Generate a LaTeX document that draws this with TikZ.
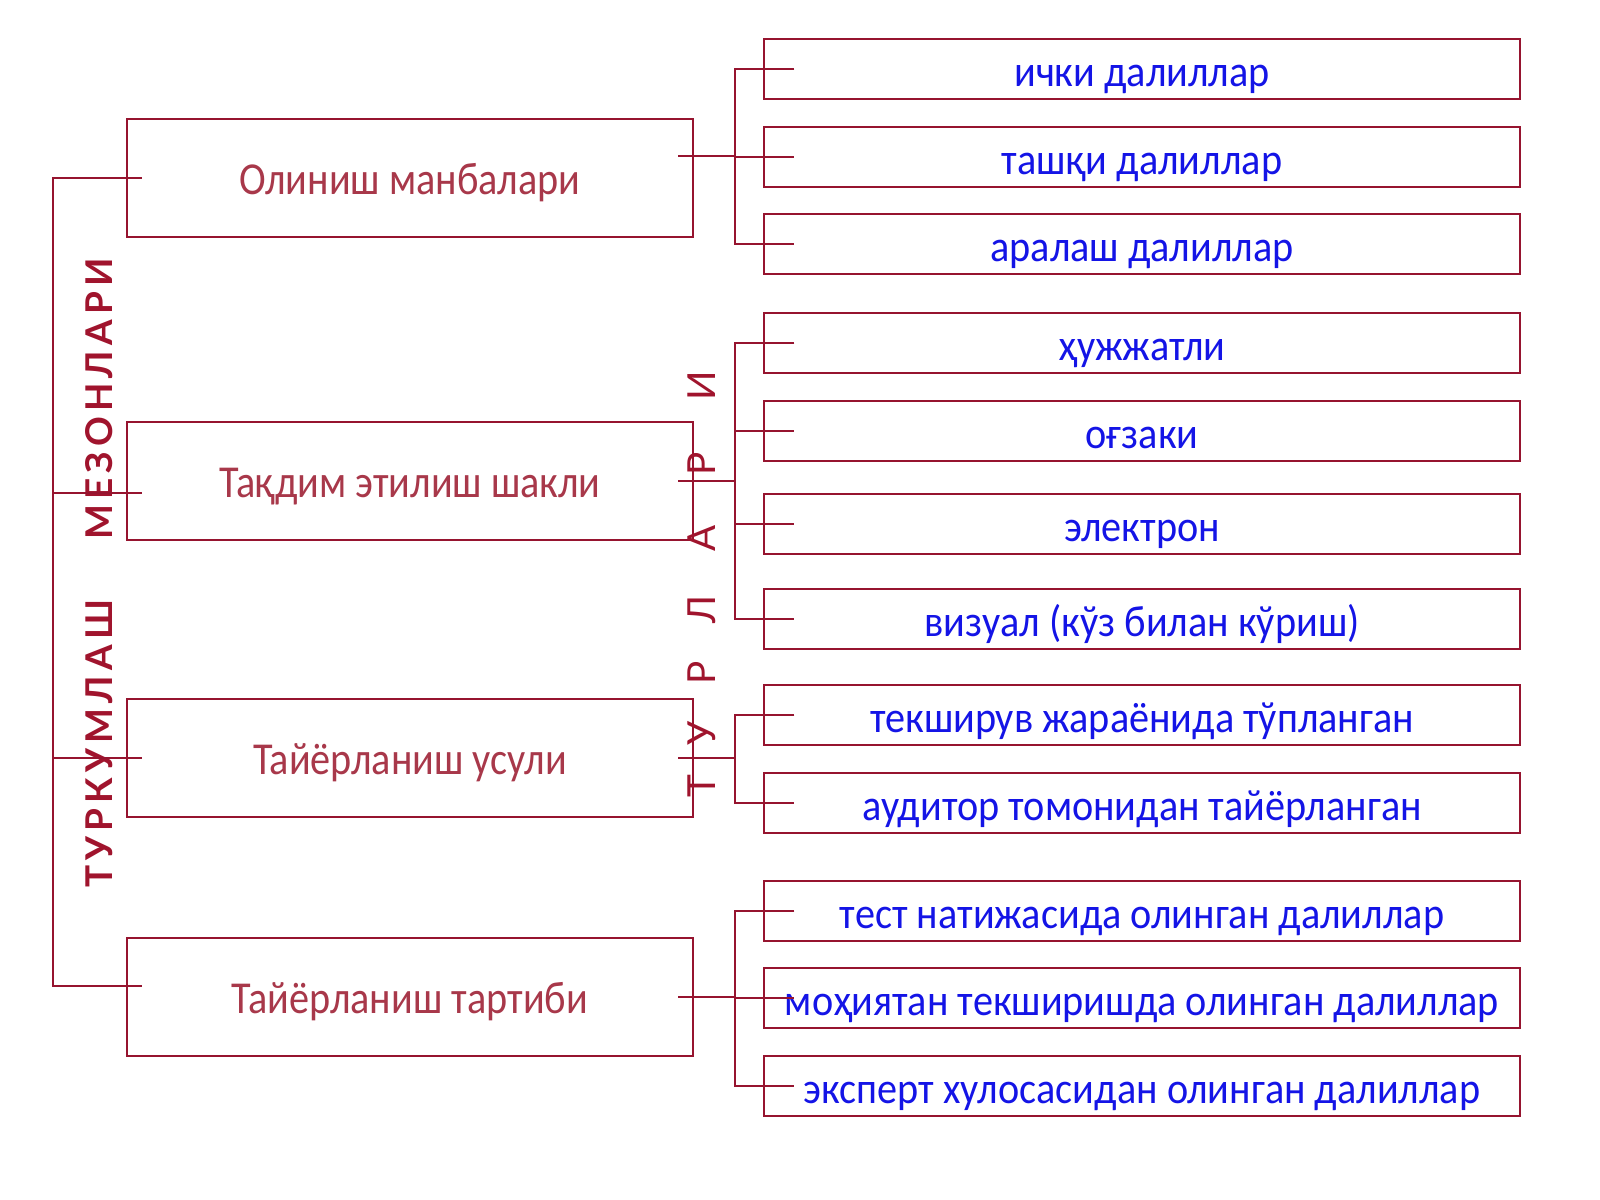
\documentclass[tikz,border=0pt]{standalone}
\usepackage{fontspec}
\usepackage{xcolor}
\usepackage{tikz}
\setmainfont{Carlito}
\newfontfamily\srcfont[FakeStretch=0.88]{Carlito}
\newfontfamily\kindfont[FakeStretch=0.915]{Carlito}
\newfontfamily\titlefont{Lato}

\definecolor{boxred}{HTML}{96142F}
\definecolor{srctext}{HTML}{A8384A}
\definecolor{kindblue}{HTML}{1414E6}
\definecolor{titlered}{HTML}{A0142D}

\tikzset{
  srcbox/.style={draw=boxred,line width=0.6pt,minimum width=5.66cm,minimum height=1.18cm,inner sep=0pt,text height=11.2pt,text depth=2pt,text=srctext,font=\srcfont\fontsize{13}{15}\selectfont},
  kindbox/.style={draw=boxred,line width=0.6pt,minimum width=7.55cm,minimum height=0.60cm,inner sep=0pt,text height=11.8pt,text depth=2pt,text=kindblue,font=\kindfont\fontsize{12.5}{14}\selectfont},
  link/.style={draw=boxred,line width=0.6pt}
}

\begin{document}
\begin{tikzpicture}[x=0.01cm,y=-0.01cm]
            \useasboundingbox (0,0) rectangle (1600,1200);

            %%% COORDINATES %%%
            \coordinate (spine) at (53,0);
            \coordinate (trunk) at (735,0);

            %%% LEFT BOXES %%%
            \node[srcbox] (src1) at (410,178) {Олиниш манбалари};
            \node[srcbox] (src2) at (410,481) {Тақдим этилиш шакли};
            \node[srcbox] (src3) at (410,758) {Тайёрланиш усули};
            \node[srcbox] (src4) at (410,997) {Тайёрланиш тартиби};

            %%% RIGHT BOXES %%%
            \node[kindbox] (k1) at (1142,69) {ички далиллар};
            \node[kindbox] (k2) at (1142,157) {ташқи далиллар};
            \node[kindbox] (k3) at (1142,244) {аралаш далиллар};
            \node[kindbox] (k4) at (1142,343) {ҳужжатли};
            \node[kindbox] (k5) at (1142,431) {оғзаки};
            \node[kindbox] (k6) at (1142,524) {электрон};
            \node[kindbox] (k7) at (1142,619) {визуал (кўз билан кўриш)};
            \node[kindbox] (k8) at (1142,715) {текширув жараёнида тўпланган};
            \node[kindbox] (k9) at (1142,803) {аудитор томонидан тайёрланган};
            \node[kindbox] (k10) at (1142,911) {тест натижасида олинган далиллар};
            \node[kindbox] (k11) at (1142,998) {моҳиятан текширишда олинган далиллар};
            \node[kindbox] (k12) at (1142,1086) {эксперт хулосасидан олинган далиллар};

            %%% TITLES %%%
            \node[rotate=90,text=titlered,font=\titlefont\bfseries\fontsize{10.5}{12}\selectfont\addfontfeature{LetterSpace=14}] (crit) at (99,573) {ТУРКУМЛАШ\hspace{0.6cm}МЕЗОНЛАРИ};
            \foreach \ch/\yy [count=\i] in {Т/786,У/733,Р/673,Л/609,А/538,Р/464,И/386}
                \node[rotate=90,text=titlered,font=\titlefont\fontsize{11}{13}\selectfont] (kindch\i) at (702,\yy) {\ch};

            %%% LEFT SPINE %%%
            \path ([yshift=-0.12cm]src2.west) coordinate (s2);
            \path ([yshift=0.11cm]src4.west) coordinate (s4);
            \draw[link] ([xshift=0.16cm]src1.west) -| (spine |- s4) -- ([xshift=0.16cm]s4);
            \draw[link] (spine |- s2) -- ([xshift=0.16cm]s2);
            \draw[link] (spine |- src3.west) -- ([xshift=0.16cm]src3.west);

            %%% RIGHT TRUNKS %%%
            \path ([yshift=0.22cm]src1.east) coordinate (e1);
            \draw[link] ([xshift=-0.16cm]e1) -- (e1 -| trunk);
            \draw[link] ([xshift=0.31cm]k1.west) -| (trunk |- k3.west) -- ([xshift=0.31cm]k3.west);
            \draw[link] (trunk |- k2.west) -- ([xshift=0.31cm]k2.west);

            \draw[link] ([xshift=-0.16cm]src2.east) -- (src2.east -| trunk);
            \draw[link] ([xshift=0.31cm]k4.west) -| (trunk |- k7.west) -- ([xshift=0.31cm]k7.west);
            \draw[link] (trunk |- k5.west) -- ([xshift=0.31cm]k5.west);
            \draw[link] (trunk |- k6.west) -- ([xshift=0.31cm]k6.west);

            \draw[link] ([xshift=-0.16cm]src3.east) -- (src3.east -| trunk);
            \draw[link] ([xshift=0.31cm]k8.west) -| (trunk |- k9.west) -- ([xshift=0.31cm]k9.west);

            \draw[link] ([xshift=-0.16cm]src4.east) -- (src4.east -| trunk);
            \draw[link] ([xshift=0.31cm]k10.west) -| (trunk |- k12.west) -- ([xshift=0.31cm]k12.west);
            \draw[link] (trunk |- k11.west) -- ([xshift=0.31cm]k11.west);
\end{tikzpicture}
\end{document}
